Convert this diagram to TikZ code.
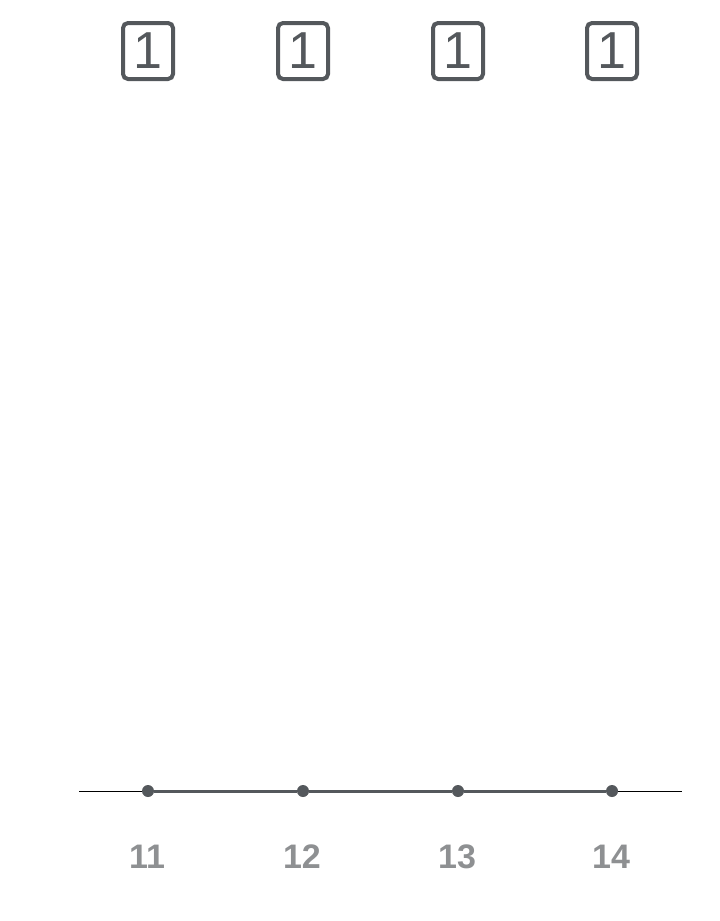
\documentclass[tikz,border=0pt]{standalone}
\usepackage{fontspec}
\setmainfont{Liberation Sans}
\definecolor{dk}{HTML}{54585C}
\definecolor{lbl}{HTML}{8E9092}
\definecolor{thin}{HTML}{6E8C80}
\begin{document}
\begin{tikzpicture}[x=1pt,y=-1pt,
  box/.style={draw=dk,line width=4pt,rounded corners=5pt,minimum width=50pt,minimum height=56pt,inner sep=0pt,text=dk,font=\fontsize{52}{52}\selectfont},
  dot/.style={circle,fill=dk,minimum size=12pt,inner sep=0pt},
  lab/.style={text=lbl,font=\fontsize{34}{34}\selectfont\bfseries}]
\useasboundingbox (0,0) rectangle (720,921);
\coordinate (L) at (79,791);
\coordinate (R) at (682,791);
\draw[thin,line width=0.7pt] (L) -- (R);
\foreach \i/\x in {1/148,2/303,3/458,4/612}{
  \node[box] (b\i) at (\x,51) {1};
  \node[dot] (d\i) at (\x,791) {};
}
\draw[dk,line width=3pt] (d1) -- (d2) -- (d3) -- (d4);
\node[lab] (l1) at (147,857) {11};
\node[lab] (l2) at (302,857) {12};
\node[lab] (l3) at (457,857) {13};
\node[lab] (l4) at (611,857) {14};
\end{tikzpicture}
\end{document}
